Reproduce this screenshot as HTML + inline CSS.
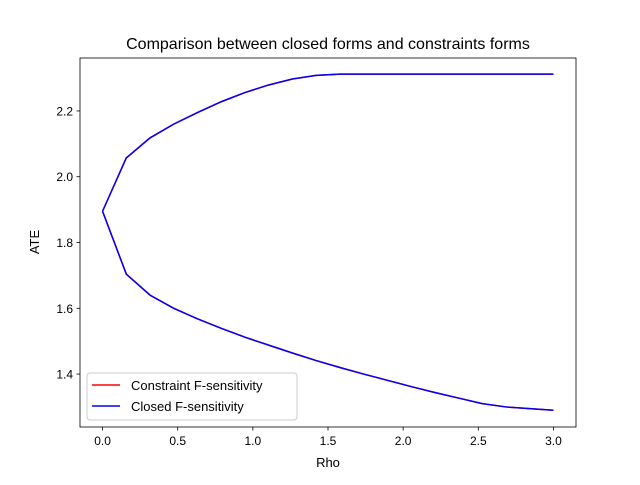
<!DOCTYPE html>
<html><head><meta charset="utf-8"><style>
body{margin:0;background:#fff;}
svg{font-family:"Liberation Sans","DejaVu Sans",sans-serif;}
</style></head><body>
<svg id="c" width="640" height="480">
<rect x="0" y="0" width="640" height="480" fill="#fff"/>
<text x="328" y="49" font-size="16" text-anchor="middle">Comparison between closed forms and constraints forms</text>
<g id="plot"></g>
<rect x="80" y="58" width="496" height="369" fill="none" stroke="#000" stroke-width="0.8"/>
<text x="328" y="467" font-size="13" text-anchor="middle">Rho</text>
<text x="0" y="0" font-size="13" text-anchor="middle" transform="translate(39,242) rotate(-90)">ATE</text>
<g>
<rect x="87" y="373" width="210" height="47" rx="3" fill="#fff" fill-opacity="0.8" stroke="#ccc"/>
<line x1="92" y1="385" x2="120" y2="385" stroke="red" stroke-width="1.5"/>
<text x="131" y="390" font-size="13">Constraint F-sensitivity</text>
<line x1="92" y1="406" x2="120" y2="406" stroke="blue" stroke-width="1.5"/>
<text x="131" y="411" font-size="13">Closed F-sensitivity</text>
</g>
</svg>
<script>
const rhoCount = 20;
const rhoMax = 3.0;
const upper = [1.895,2.057,2.118,2.16,2.195,2.228,2.256,2.279,2.297,2.308,2.312,2.312,2.312,2.312,2.312,2.312,2.312,2.312,2.312,2.312];
const lower = [1.895,1.704,1.64,1.60,1.568,1.539,1.512,1.488,1.464,1.441,1.42,1.40,1.381,1.362,1.344,1.327,1.31,1.30,1.295,1.29];
const xTicks = [0.0,0.5,1.0,1.5,2.0,2.5,3.0];
const yTicks = [1.4,1.6,1.8,2.0,2.2];
const rho = [];
for (let i=0;i<rhoCount;i++) rho.push(i*rhoMax/(rhoCount-1));
const X = v => 80 + (v + 0.15) / 3.3 * 496;
const Y = v => 427 - (v - 1.239) / (2.361 - 1.239) * 369;
const NS="http://www.w3.org/2000/svg";
const g=document.getElementById('plot');
function mk(t,a){const e=document.createElementNS(NS,t);for(const k in a)e.setAttribute(k,a[k]);g.appendChild(e);return e;}
xTicks.forEach(t=>{
 const l=mk('line',{x1:X(t),x2:X(t),y1:427,y2:430.5,stroke:'#000','stroke-width':0.8});
 
 
 const s=mk('text',{x:X(t),y:445,'font-size':12,'text-anchor':'middle'});s.textContent=t.toFixed(1);
 
 
});
yTicks.forEach(t=>{
 const l=mk('line',{x1:76.5,x2:80,y1:Y(t),y2:Y(t),stroke:'#000','stroke-width':0.8});
 
 
 const s=mk('text',{x:73,y:Y(t)+4.5,'font-size':12,'text-anchor':'end'});s.textContent=t.toFixed(1);
 
 
});
function pts(arr){return arr.map((v,i)=>X(rho[i])+','+Y(v)).join(' ');}
[['red','constraint'],['blue','closed']].forEach(([c,n])=>{
 [upper,lower].forEach((arr,k)=>{
  const p=mk('polyline',{points:pts(arr),fill:'none',stroke:c,'stroke-width':1.5});
  
  
 });
});
</script>
</body></html>
